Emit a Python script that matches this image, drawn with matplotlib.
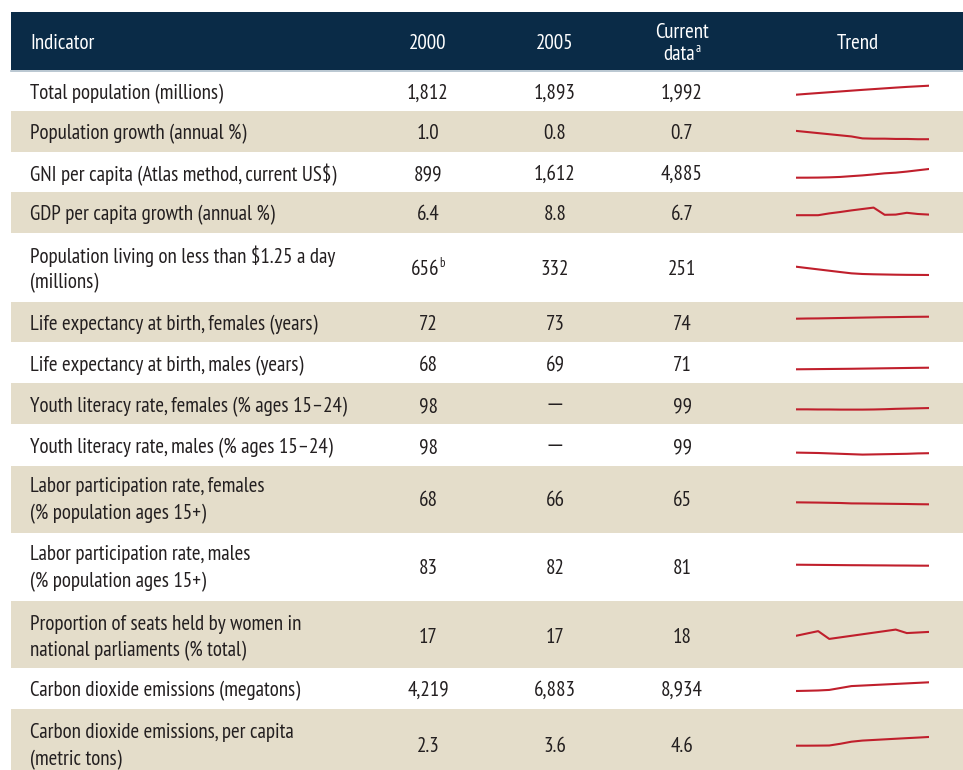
import matplotlib
matplotlib.use("Agg")
import matplotlib.pyplot as plt
from matplotlib.patches import Rectangle

# ---- data ----
indicators = [
    "Total population (millions)",
    "Population growth (annual %)",
    "GNI per capita (Atlas method, current US$)",
    "GDP per capita growth (annual %)",
    "Population living on less than $1.25 a day\n(millions)",
    "Life expectancy at birth, females (years)",
    "Life expectancy at birth, males (years)",
    "Youth literacy rate, females (% ages 15\u201324)",
    "Youth literacy rate, males (% ages 15\u201324)",
    "Labor participation rate, females\n(% population ages 15+)",
    "Labor participation rate, males\n(% population ages 15+)",
    "Proportion of seats held by women in\nnational parliaments (% total)",
    "Carbon dioxide emissions (megatons)",
    "Carbon dioxide emissions, per capita\n(metric tons)",
]
col_2000 = ["1,812", "1.0", "899", "6.4", "656", "72", "68", "98", "98", "68", "83", "17", "4,219", "2.3"]
col_2005 = ["1,893", "0.8", "1,612", "8.8", "332", "73", "69", "\u2014", "\u2014", "66", "82", "17", "6,883", "3.6"]
col_current = ["1,992", "0.7", "4,885", "6.7", "251", "74", "71", "99", "99", "65", "81", "18", "8,934", "4.6"]
notes_2000 = {4: "b"}

trend_years = list(range(2000, 2013))
trend_pop = [1812, 1829, 1845, 1861, 1877, 1893, 1909, 1924, 1939, 1954, 1968, 1980, 1992]
trend_popgrowth = [1.0, 0.96, 0.92, 0.88, 0.84, 0.8, 0.73, 0.72, 0.72, 0.71, 0.71, 0.70, 0.70]
trend_gni = [899, 910, 950, 1060, 1250, 1612, 1950, 2400, 2900, 3200, 3700, 4300, 4885]
trend_gdpgrowth = [6.4, 6.4, 6.4, 7.3, 8.0, 8.8, 9.5, 10.2, 6.6, 6.7, 7.6, 7.0, 6.7]
trend_poverty = [656, 590, 525, 460, 395, 332, 300, 285, 275, 265, 258, 255, 251]
trend_life_f = [72.0, 72.2, 72.3, 72.5, 72.7, 72.9, 73.1, 73.3, 73.5, 73.6, 73.8, 73.9, 74.0]
trend_life_m = [68.0, 68.2, 68.4, 68.6, 68.8, 69.0, 69.3, 69.6, 69.9, 70.2, 70.5, 70.8, 71.0]
trend_lit_f = [98.0, 98.0, 97.9, 97.9, 97.8, 97.8, 97.8, 97.9, 98.1, 98.4, 98.6, 98.8, 99.0]
trend_lit_m = [98.4, 98.35, 98.3, 98.2, 98.1, 98.0, 97.9, 97.95, 98.0, 98.05, 98.1, 98.2, 98.25]
trend_labor_f = [68.0, 67.8, 67.6, 67.3, 67.0, 66.4, 66.3, 66.1, 65.9, 65.7, 65.5, 65.2, 65.0]
trend_labor_m = [83.0, 82.8, 82.6, 82.4, 82.2, 82.0, 81.9, 81.7, 81.6, 81.4, 81.3, 81.1, 81.0]
trend_seats = [17.0, 17.6, 18.2, 16.2, 16.6, 17.0, 17.4, 17.8, 18.2, 18.6, 17.7, 17.85, 18.0]
trend_co2 = [4219, 4350, 4500, 4800, 5840, 6883, 7176, 7469, 7762, 8055, 8348, 8641, 8934]
trend_co2_pc = [2.3, 2.3, 2.32, 2.35, 2.8, 3.35, 3.65, 3.81, 3.97, 4.13, 4.29, 4.44, 4.6]

trends = [trend_pop, trend_popgrowth, trend_gni, trend_gdpgrowth, trend_poverty,
          trend_life_f, trend_life_m, trend_lit_f, trend_lit_m, trend_labor_f,
          trend_labor_m, trend_seats, trend_co2, trend_co2_pc]
trend_ylim = [(1566, 2166), (0.42, 1.50), (-3820, 9920), (0, 15), (-140, 1325),
              (52.7, 82.7), (49.6, 106.5), (89.8, 112.9), (96.3, 103.8), (50.5, 95.5),
              (48.4, 108.4), (13.1, 20.8), (-2827, 13433), (-1.48, 6.44)]

# ---- layout (pixels) ----
W, H = 963, 770
row_edges = [72, 111, 152, 192, 233, 302, 342, 383, 424, 466, 533, 601, 668, 709, 781]
row_mid = [92, 132, 173, 213, 268, 323, 364, 405, 446, 499, 567, 636, 689, 745]
x_label, x_2000, x_2005, x_cur, x_trend = 30, 428, 555, 682, 858
spark_x0, spark_x1 = 796, 929
dy = 1.5  # text sits a touch below the row centre

navy = "#0a2b47"
beige = "#e4ddca"
red = "#c01f2c"
ink = "#231f20"
plt.rcParams["font.family"] = ["PT Sans Narrow", "Roboto", "DejaVu Sans"]

fig = plt.figure(figsize=(W / 100, H / 100), dpi=100)
ax = fig.add_axes([0, 0, 1, 1])
ax.set_xlim(0, W)
ax.set_ylim(H, 0)
ax.axis("off")
renderer = fig.canvas.get_renderer()

# size the font so the first label is as wide as in the reference (~193 px)
probe = ax.text(0, 0, indicators[0], fontsize=12)
FS = 12 * 193 / probe.get_window_extent(renderer).width
probe.remove()
SUP = FS * 0.6


def cell(x, y, s, color=ink, ha="center"):
    fam = ["Roboto", "DejaVu Sans"] if s == "\u2014" else None
    return ax.text(x, y, s, ha=ha, va="center", fontsize=FS, color=color, family=fam)


def with_sup(x, y, s, sup, color):
    # main text centred on x together with a small raised note after it
    t = cell(x, y, s, color)
    bb = t.get_window_extent(renderer).transformed(ax.transData.inverted())
    st = ax.text(0, 0, sup, ha="left", va="center", fontsize=SUP, color=color)
    sw = st.get_window_extent(renderer).width
    shift = sw / 2
    t.set_x(x - shift)
    st.set_position((bb.x1 - shift, y - 6))


# header
ax.add_patch(Rectangle((11, 12), W - 11, 58, facecolor=navy, edgecolor="none"))
ax.plot([11, W], [71, 71], color="#aebdca", lw=1.2)
cell(x_label, 42 + dy, "Indicator", "white", ha="left")
cell(x_2000, 42 + dy, "2000", "white")
cell(x_2005, 42 + dy, "2005", "white")
cell(x_cur, 31 + dy, "Current", "white")
with_sup(x_cur, 53 + dy, "data", "a", "white")
cell(x_trend, 42 + dy, "Trend", "white")

# rows
for i in range(len(indicators)):
    y0, y1 = row_edges[i], row_edges[i + 1]
    if i % 2 == 1:
        ax.add_patch(Rectangle((11, y0), W - 11, y1 - y0, facecolor=beige, edgecolor="none"))
    ym = row_mid[i] + dy
    lines = indicators[i].split("\n")
    if len(lines) == 1:
        cell(x_label, ym, lines[0], ha="left")
    else:
        cell(x_label, ym - 13.5, lines[0], ha="left")
        cell(x_label, ym + 13.5, lines[1], ha="left")

    if i in notes_2000:
        with_sup(x_2000, ym, col_2000[i], notes_2000[i], ink)
    else:
        cell(x_2000, ym, col_2000[i])
    cell(x_2005, ym, col_2005[i])
    cell(x_cur, ym, col_current[i])

    # sparkline
    yc = row_mid[i]
    sax = fig.add_axes([spark_x0 / W, (H - (yc + 15)) / H, (spark_x1 - spark_x0) / W, 30 / H])
    sax.plot(trend_years, trends[i], color=red, lw=1.5)
    sax.set_xlim(trend_years[0], trend_years[-1])
    sax.set_ylim(*trend_ylim[i])
    sax.axis("off")
    sax.patch.set_alpha(0)

fig.savefig("out.png", dpi=100)
